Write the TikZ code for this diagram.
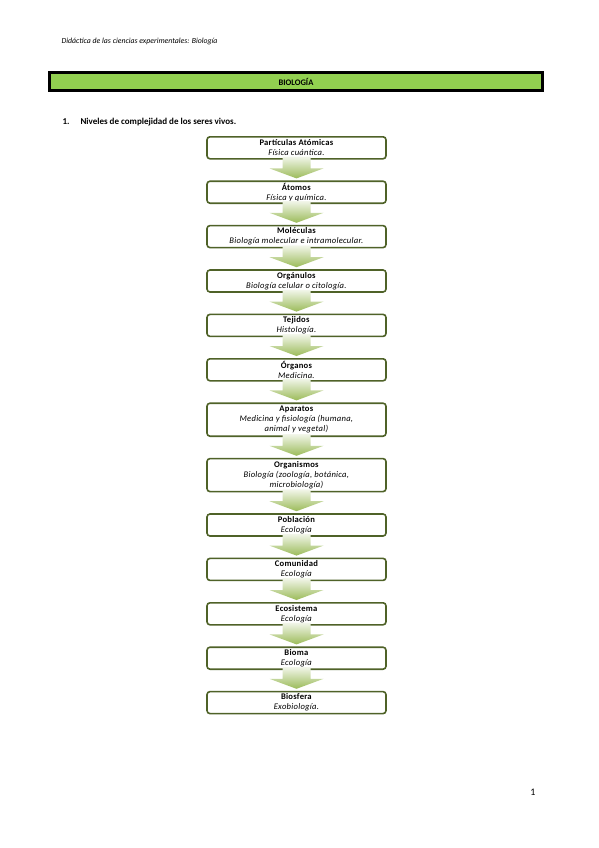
\documentclass[tikz,border=0pt]{standalone}
\usepackage{fontspec}
\setmainfont{Carlito}
\usetikzlibrary{positioning,calc}

\definecolor{borde}{HTML}{4F6228}
\definecolor{barra}{HTML}{92D050}
\definecolor{flechaclara}{HTML}{F2F6EA}
\definecolor{flechaoscura}{HTML}{9BBB59}

\tikzset{
	nivel/.style={draw=borde, line width=1.6pt, rounded corners=3pt, fill=white,
		minimum width=179pt, minimum height=22pt, inner xsep=2pt, inner ysep=1.5pt,
		align=center, font=\fontsize{8.6}{10}\selectfont\addfontfeatures{LetterSpace=3}},
	flecha/.style={top color=flechaclara, bottom color=flechaoscura, draw=none},
}

\newcommand{\nivelt}[2]{\textbf{#1}\\\textit{#2}}

\begin{document}
\begin{tikzpicture}[x=1pt,y=-1pt,node distance=20.8pt]
\useasboundingbox[fill=white] (0,0) rectangle (599,848);

% Cabecera
	\node[anchor=west, font=\fontsize{7.8}{9}\selectfont\itshape] (cab) at (58,41)
		{Didáctica de las ciencias experimentales: Biología};
	\node[draw, line width=3pt, fill=barra, minimum width=493pt, minimum height=18pt,
		inner sep=0pt, font=\fontsize{8.5}{9}\selectfont\bfseries] (bio) at (296,81.5) {BIOLOGÍA};
	\node[anchor=west, font=\fontsize{9}{10}\selectfont\bfseries] (num) at (59,122) {1.};
	\node[anchor=west, font=\fontsize{9}{10}\selectfont\bfseries] (tit) at (77,122)
		{Niveles de complejidad de los seres vivos.};

% Niveles
	\node[nivel, anchor=north] (part) at (296.5,136) {\nivelt{Partículas Atómicas}{Física cuántica.}};
	\node[nivel, below=of part] (atom) {\nivelt{Átomos}{Física y química.}};
	\node[nivel, below=of atom] (mole) {\nivelt{Moléculas}{Biología molecular e intramolecular.}};
	\node[nivel, below=of mole] (orga) {\nivelt{Orgánulos}{Biología celular o citología.}};
	\node[nivel, below=of orga] (teji) {\nivelt{Tejidos}{Histología.}};
	\node[nivel, below=of teji] (orgs) {\nivelt{Órganos}{Medicina.}};
	\node[nivel, below=of orgs, minimum height=33pt] (apar)
		{\textbf{Aparatos}\\\textit{Medicina y fisiología (humana,}\\\textit{animal y vegetal)}};
	\node[nivel, below=of apar, minimum height=33pt] (orgn)
		{\textbf{Organismos}\\\textit{Biología (zoología, botánica,}\\\textit{microbiología)}};
	\node[nivel, below=of orgn] (pobl) {\nivelt{Población}{Ecología}};
	\node[nivel, below=of pobl] (comu) {\nivelt{Comunidad}{Ecología}};
	\node[nivel, below=of comu] (ecos) {\nivelt{Ecosistema}{Ecología}};
	\node[nivel, below=of ecos] (biom) {\nivelt{Bioma}{Ecología}};
	\node[nivel, below=of biom] (bios) {\nivelt{Biosfera}{Exobiología.}};

% Flechas
	\foreach \a/\b in {part/atom, atom/mole, mole/orga, orga/teji, teji/orgs, orgs/apar,
		apar/orgn, orgn/pobl, pobl/comu, comu/ecos, ecos/biom, biom/bios}
		\path[flecha] ($(\a.south)+(-14,-3)$) -- ($(\a.south)+(14,-3)$)
			-- ($(\b.north)+(14,-12)$) -- ($(\b.north)+(27,-12)$) -- ($(\b.north)+(0,-2)$)
			-- ($(\b.north)+(-27,-12)$) -- ($(\b.north)+(-14,-12)$) -- cycle;

% Pie
	\node[font=\fontsize{10}{11}\selectfont] (pag) at (533,792) {1};
\end{tikzpicture}
\end{document}
